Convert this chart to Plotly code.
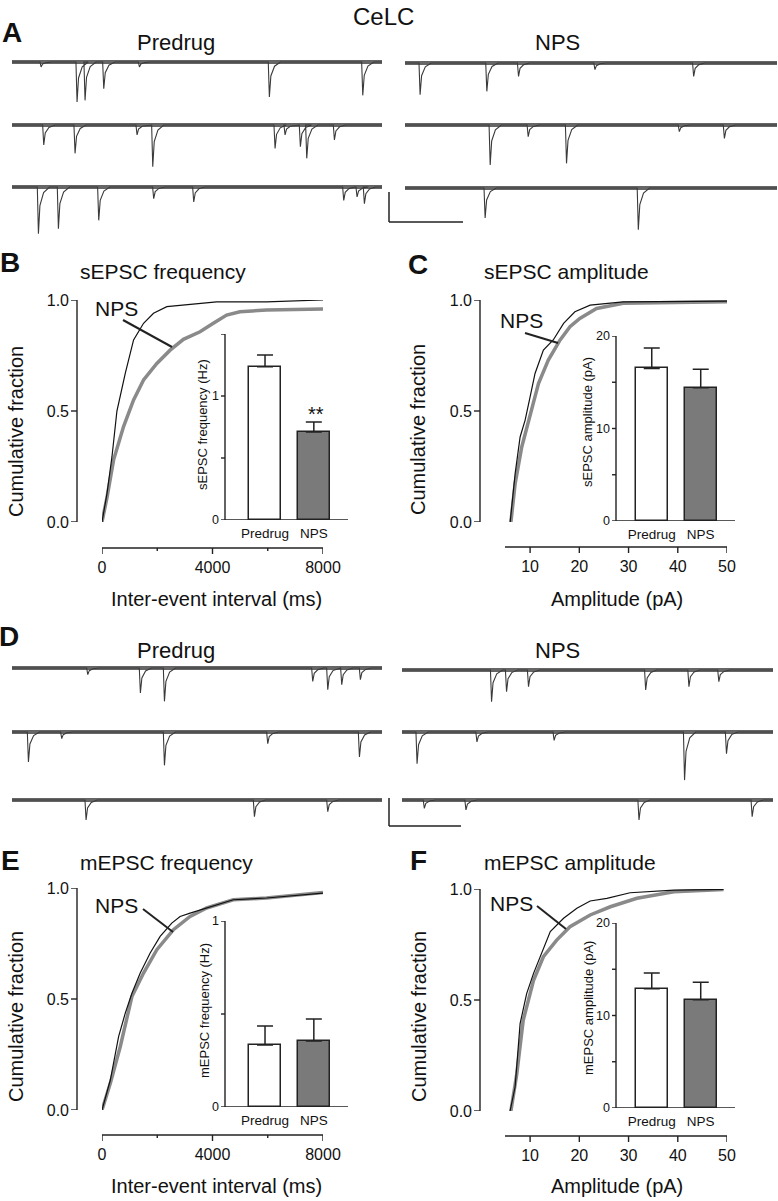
import plotly.graph_objects as go

# ---------------- data ----------------
# spontaneous / miniature EPSC sweeps (5 s each): (time ms, amplitude pA)
A_PRE_EVENTS = [
    [(383, 3.7), (869, 29.6), (977, 28.4), (1230, 19.8), (1712, 3.7), (3468, 25.9), (4730, 24.7)],
    [(419, 14.8), (842, 21.0), (1680, 7.4), (1892, 30.9), (3545, 17.3), (3680, 7.4), (3887, 16.0),
     (3973, 24.7), (4347, 11.1)],
    [(347, 34.6), (617, 30.9), (1162, 24.7), (1905, 8.6), (2446, 11.1), (4473, 9.9), (4653, 7.4),
     (4752, 12.3)],
]
A_NPS_EVENTS = [
    [(193, 23.5), (1090, 21.0), (1516, 9.9), (2543, 4.9), (3870, 9.9)],
    [(1135, 29.6), (1646, 8.6), (2161, 28.4), (3677, 4.9), (4283, 9.9)],
    [(1067, 22.2), (3126, 30.9)],
]
D_PRE_EVENTS = [
    [(1014, 4.9), (1725, 18.5), (2050, 24.7), (4054, 9.9), (4257, 16.0), (4446, 12.3), (4698, 8.6)],
    [(212, 22.2), (662, 4.9), (2050, 24.7), (3446, 8.6), (4685, 18.5)],
    [(991, 14.8), (3266, 12.3), (4257, 8.6)],
]
D_NPS_EVENTS = [
    [(1197, 23.5), (1399, 16.0), (1695, 12.3), (3274, 14.8), (3857, 12.3), (4260, 8.6)],
    [(193, 23.5), (1000, 7.4), (2040, 6.2), (3798, 35.8), (4363, 16.0)],
    [(291, 6.2), (852, 7.4), (3184, 14.8), (4709, 12.3)],
]
SWEEP_MS = 5000

# cumulative distributions
B_PRE_X = [0, 180, 360, 540, 842, 1143, 1504, 1865, 2346, 3550, 4150, 5955, 8000]
B_PRE_Y = [0, 0.128, 0.293, 0.5, 0.669, 0.82, 0.895, 0.94, 0.97, 0.985, 0.992, 0.992, 1.0]
B_NPS_X = [0, 180, 420, 780, 1143, 1504, 1985, 2466, 2947, 3549, 4030, 4511, 4992, 5955, 8000]
B_NPS_Y = [0, 0.11, 0.28, 0.43, 0.55, 0.64, 0.714, 0.774, 0.823, 0.857, 0.895, 0.932, 0.947, 0.955, 0.96]

C_PRE_X = [5.95, 6.96, 7.97, 8.99, 10, 11, 12.7, 14.7, 16.8, 19.1, 22.2, 28.9, 50]
C_PRE_Y = [0, 0.218, 0.383, 0.459, 0.564, 0.669, 0.774, 0.82, 0.895, 0.947, 0.977, 0.992, 0.995]
C_NPS_X = [6.1, 6.96, 8.3, 10, 11.7, 13.7, 16.1, 18.1, 20.1, 23.5, 28.9, 50]
C_NPS_Y = [0, 0.173, 0.338, 0.489, 0.624, 0.729, 0.82, 0.88, 0.917, 0.962, 0.985, 0.992]

E_PRE_X = [0, 301, 601, 842, 1083, 1384, 1744, 2105, 2526, 2827, 3188, 3789, 4752, 5955, 8000]
E_PRE_Y = [0, 0.135, 0.331, 0.436, 0.526, 0.617, 0.707, 0.782, 0.842, 0.872, 0.887, 0.91, 0.947, 0.955, 0.977]
E_NPS_X = [0, 301, 662, 1083, 1504, 1985, 2586, 3188, 3789, 4752, 5955, 8000]
E_NPS_Y = [0, 0.12, 0.286, 0.511, 0.617, 0.722, 0.812, 0.872, 0.91, 0.947, 0.955, 0.98]

F_PRE_X = [5.93, 6.95, 7.97, 9.3, 10.7, 12.4, 14.1, 16.8, 19.5, 22.2, 25.6, 30.3, 39.2, 49.3]
F_PRE_Y = [0, 0.108, 0.394, 0.529, 0.62, 0.71, 0.808, 0.868, 0.913, 0.946, 0.958, 0.983, 0.995, 0.998]
F_NPS_X = [6.1, 7.3, 8.6, 10.7, 12.7, 15.4, 18.1, 22.2, 26.3, 31.7, 39.2, 49.3]
F_NPS_Y = [0, 0.168, 0.409, 0.589, 0.695, 0.77, 0.83, 0.883, 0.92, 0.958, 0.988, 0.998]

# inset bar data (mean, SEM)
GROUPS = ['Predrug', 'NPS']
SEPSC_FREQ = [1.235, 0.71]
SEPSC_FREQ_SEM = [0.095, 0.08]
SEPSC_AMP = [16.5, 14.4]
SEPSC_AMP_SEM = [2.2, 2.0]
MEPSC_FREQ = [0.333, 0.355]
MEPSC_FREQ_SEM = [0.102, 0.118]
MEPSC_AMP = [12.9, 11.7]
MEPSC_AMP_SEM = [1.7, 1.9]

# ---------------- helpers ----------------
W, H = 778, 1201
FONT = 'Liberation Sans, Arial, sans-serif'
INK = '#222222'
GREY = '#8a8a8a'


def fx(px):
    return px / W


def fy(py):
    return 1 - py / H


fig = go.Figure()
n_ax = [0]


def new_axes(xdom, ydom, xa, ya):
    # domains given in pixels: xdom=(left, right), ydom=(top, bottom)
    n_ax[0] += 1
    s = '' if n_ax[0] == 1 else str(n_ax[0])
    base = dict(showgrid=False, zeroline=False, showline=False, ticks='', automargin=False)
    xd = dict(domain=[fx(xdom[0]), fx(xdom[1])], anchor='y' + s, **base)
    yd = dict(domain=[fy(ydom[1]), fy(ydom[0])], anchor='x' + s, **base)
    xd.update(xa)
    yd.update(ya)
    fig.update_layout({'xaxis' + s: xd, 'yaxis' + s: yd})
    return 'x' + s, 'y' + s


def add_text(x, y, text, size, bold=False, angle=0, xanchor='center'):
    if bold:
        text = '<b>' + text + '</b>'
    fig.add_annotation(x=fx(x), y=fy(y), xref='paper', yref='paper', text=text, showarrow=False,
                       font=dict(family=FONT, size=size, color='#111'), textangle=angle,
                       xanchor=xanchor, yanchor='middle')


def seg(x0, y0, x1, y1, xref='paper', yref='paper', width=1.5):
    fig.add_shape(type='line', xref=xref, yref=yref, x0=x0, y0=y0, x1=x1, y1=y1,
                  line=dict(color=INK, width=width))


def add_line(x0, y0, x1, y1, width=1.5):
    seg(fx(x0), fy(y0), fx(x1), fy(y1), width=width)


# ---------------- current traces ----------------
K = 1.35  # px per pA


def sweep(events, x0, x1, base):
    xa = dict(range=[0, SWEEP_MS], visible=False)
    ya = dict(range=[-36, 5], visible=False)
    xr, yr = new_axes((x0, x1), (base - 5 * K, base + 36 * K), xa, ya)
    xs, ys = [0], [0]
    for t, a in sorted(events):
        xs += [t - 5, t + 10, t + 30, t + 80, t + 160]
        ys += [0, -a, -0.4 * a, -0.12 * a, 0]
    xs.append(SWEEP_MS)
    ys.append(0)
    fig.add_trace(go.Scatter(x=[0, SWEEP_MS], y=[0, 0], mode='lines', xaxis=xr, yaxis=yr,
                             line=dict(color='#666666', width=4), hoverinfo='skip'))
    fig.add_trace(go.Scatter(x=xs, y=ys, mode='lines', xaxis=xr, yaxis=yr,
                             line=dict(color='#3a3a3a', width=1.1), hoverinfo='skip'))


for ev, base in zip(A_PRE_EVENTS, [62, 125, 187]):
    sweep(ev, 12, 382, base)
for ev, base in zip(A_NPS_EVENTS, [63, 125, 188]):
    sweep(ev, 405, 777, base)
for ev, base in zip(D_PRE_EVENTS, [668, 732, 800]):
    sweep(ev, 12, 382, base)
for ev, base in zip(D_NPS_EVENTS, [670, 732, 800]):
    sweep(ev, 402, 773, base)

# scale bars
add_line(389, 192, 389, 222)
add_line(389, 222, 463, 222)
add_line(389, 798, 389, 826)
add_line(389, 826, 461, 826)

# ---------------- cumulative plots ----------------
TICKFONT = dict(family=FONT, size=16, color='#111')


def cumulative(xdom, ydom, yline_x, xline_y, xrng, xticks, xlabels, minor, px, py, nx, ny):
    # data area
    xr, yr = new_axes(xdom, ydom, dict(range=xrng, visible=False), dict(range=[0, 1], visible=False))
    fig.add_trace(go.Scatter(x=nx, y=ny, mode='lines', xaxis=xr, yaxis=yr, cliponaxis=False,
                             line=dict(color=GREY, width=3.5)))
    fig.add_trace(go.Scatter(x=px, y=py, mode='lines', xaxis=xr, yaxis=yr, cliponaxis=False,
                             line=dict(color='#111', width=1.2)))
    # detached y axis: labels from the axis, line + ticks drawn on the data scale
    yvals = [0, 0.5, 1]
    ya = dict(range=[0, 1], tickvals=yvals, ticktext=['0.0', '0.5', '1.0'], tickfont=TICKFONT,
              ticklabelstandoff=7)
    xr2, yr2 = new_axes((yline_x, yline_x + 8), ydom, dict(range=[0, 1], visible=False), ya)
    fig.add_trace(go.Scatter(x=[None], y=[None], xaxis=xr2, yaxis=yr2, hoverinfo='skip'))
    seg(fx(yline_x), 0, fx(yline_x), 1, yref=yr, width=1.4)
    for v in yvals:
        seg(fx(yline_x - 6), v, fx(yline_x), v, yref=yr, width=1.4)
    # detached x axis
    xa = dict(range=xrng, tickvals=xticks, ticktext=xlabels, tickfont=TICKFONT, ticklabelstandoff=8)
    xr3, yr3 = new_axes(xdom, (xline_y - 8, xline_y), xa, dict(range=[0, 1], visible=False))
    fig.add_trace(go.Scatter(x=[None], y=[None], xaxis=xr3, yaxis=yr3, hoverinfo='skip'))
    seg(xrng[0], fy(xline_y), xrng[1], fy(xline_y), xref=xr, width=1.4)
    for v in xticks:
        seg(v, fy(xline_y), v, fy(xline_y + 6), xref=xr, width=1.4)
    for v in (minor or []):
        seg(v, fy(xline_y), v, fy(xline_y + 3), xref=xr, width=1.4)


cumulative((102, 323), (300, 522), 77, 548, [0, 8000], [0, 4000, 8000], ['0', '4000', '8000'],
           [2000, 6000], B_PRE_X, B_PRE_Y, B_NPS_X, B_NPS_Y)
cumulative((505, 727), (300, 522), 480, 547, [4.9, 50], [10, 20, 30, 40, 50],
           ['10', '20', '30', '40', '50'], None, C_PRE_X, C_PRE_Y, C_NPS_X, C_NPS_Y)
cumulative((102, 323), (888, 1110), 77, 1135, [0, 8000], [0, 4000, 8000], ['0', '4000', '8000'],
           [2000, 6000], E_PRE_X, E_PRE_Y, E_NPS_X, E_NPS_Y)
cumulative((505, 727), (889, 1111), 480, 1136, [4.9, 50], [10, 20, 30, 40, 50],
           ['10', '20', '30', '40', '50'], None, F_PRE_X, F_PRE_Y, F_NPS_X, F_NPS_Y)

# ---------------- inset bar charts ----------------


def inset(xdom, ydom, yrng, yticks, ylabels, minor, vals, sems, xrng):
    xa = dict(type='category', range=xrng, ticklabelstandoff=3,
              tickfont=dict(family=FONT, size=13.5, color='#111'))
    ya = dict(range=yrng, tickvals=yticks, ticktext=ylabels, ticklabelstandoff=5,
              tickfont=dict(family=FONT, size=12.5, color='#111'))
    xr, yr = new_axes(xdom, ydom, xa, ya)
    fig.add_trace(go.Bar(x=GROUPS, y=vals, xaxis=xr, yaxis=yr, width=0.66,
                         marker=dict(color=['white', '#7a7a7a'], line=dict(color=INK, width=1.5)),
                         error_y=dict(type='data', symmetric=False, array=sems, arrayminus=[0, 0],
                                      color=INK, thickness=1.5, width=8)))
    left = fx(xdom[0])
    seg(left, yrng[0], left, yrng[1], yref=yr, width=1.4)
    seg(left, 0, fx(xdom[1]), 0, yref=yr, width=1.4)
    for v in list(yticks) + list(minor):
        seg(fx(xdom[0] - 4), v, left, v, yref=yr, width=1.4)


inset((225, 348), (334, 520), [0, 1.5], [0, 1], ['0', '1'], [0.5, 1.5],
      SEPSC_FREQ, SEPSC_FREQ_SEM, [-0.82, 1.70])
inset((616, 735), (336, 521), [0, 20], [0, 10, 20], ['0', '10', '20'], [5, 15],
      SEPSC_AMP, SEPSC_AMP_SEM, [-0.73, 1.70])
inset((225, 348), (921, 1107), [0, 1], [0, 1], ['0', '1'], [0.5],
      MEPSC_FREQ, MEPSC_FREQ_SEM, [-0.82, 1.70])
inset((616, 735), (923, 1108), [0, 20], [0, 10, 20], ['0', '10', '20'], [5, 15],
      MEPSC_AMP, MEPSC_AMP_SEM, [-0.73, 1.70])

# ---------------- text ----------------
add_text(383, 16, 'CeLC', 24)
add_text(12, 32, 'A', 28, bold=True)
add_text(176, 42, 'Predrug', 22)
add_text(557, 42, 'NPS', 22)
add_text(9, 636, 'D', 28, bold=True)
add_text(176, 650, 'Predrug', 22)
add_text(557, 650, 'NPS', 22)

add_text(10, 263, 'B', 28, bold=True)
add_text(418, 264, 'C', 28, bold=True)
add_text(10, 860, 'E', 28, bold=True)
add_text(418, 860, 'F', 28, bold=True)
add_text(78, 272, 'sEPSC frequency', 21, xanchor='left')
add_text(482, 272, 'sEPSC amplitude', 21, xanchor='left')
add_text(78, 862, 'mEPSC frequency', 21, xanchor='left')
add_text(482, 862, 'mEPSC amplitude', 21, xanchor='left')

for x, y in [(16, 432), (418, 430), (16, 1017), (419, 1017)]:
    add_text(x, y, 'Cumulative fraction', 20, angle=-90)
add_text(216, 599, 'Inter-event interval (ms)', 20)
add_text(617, 599, 'Amplitude (pA)', 20)
add_text(216, 1186, 'Inter-event interval (ms)', 20)
add_text(617, 1186, 'Amplitude (pA)', 20)

add_text(203, 425, 'sEPSC frequency (Hz)', 13, angle=-90)
add_text(587, 422, 'sEPSC amplitude (pA)', 13, angle=-90)
add_text(204, 1011, 'mEPSC frequency (Hz)', 13, angle=-90)
add_text(588, 1008, 'mEPSC amplitude (pA)', 13, angle=-90)
add_text(316, 414, '**', 20)

# NPS callouts
add_text(117, 308, 'NPS', 21)
add_line(123, 320, 172, 347, 2)
add_text(521, 320, 'NPS', 21)
add_line(525, 333, 558, 343, 2)
add_text(117, 905, 'NPS', 21)
add_line(143, 909, 173, 932, 2)
add_text(512, 903, 'NPS', 21)
add_line(537, 906, 566, 929, 2)

fig.update_layout(width=W, height=H, margin=dict(l=0, r=0, t=0, b=0, pad=0), showlegend=False,
                  plot_bgcolor='rgba(0,0,0,0)', paper_bgcolor='white', font=dict(family=FONT),
                  bargap=0)

# drop the browser's default 8px body margin so the figure sits at the window origin
fig.write_html("out.html", config={'displayModeBar': False},
               post_script="document.body.style.margin='0px';")
